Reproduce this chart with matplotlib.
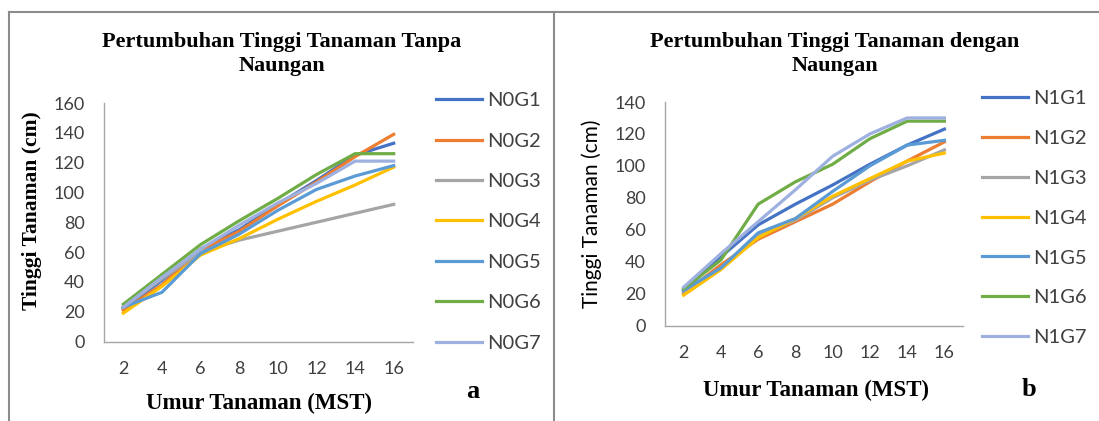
import matplotlib
matplotlib.use("Agg")
import matplotlib.pyplot as plt
import numpy as np

# umur tanaman (MST)
weeks = [2, 4, 6, 8, 10, 12, 14, 16]

# tanpa naungan (a)
N0G1 = [22, 41, 62, 75, 92, 108, 125, 133]
N0G2 = [21, 38, 61, 74, 91, 107, 124, 139]
N0G3 = [23, 42, 60, 68, 74, 80, 86, 92]
N0G4 = [19, 37, 58, 69, 82, 94, 105, 117]
N0G5 = [23, 33, 59, 72, 88, 102, 111, 118]
N0G6 = [25, 45, 65, 81, 96, 112, 126, 126]
N0G7 = [23, 43, 62, 78, 93, 106, 121, 121]

# dengan naungan (b)
N1G1 = [22, 43, 63, 76, 88, 101, 113, 123]
N1G2 = [20, 38, 54, 65, 76, 90, 103, 115]
N1G3 = [21, 36, 56, 66, 80, 91, 100, 110]
N1G4 = [19, 35, 55, 67, 81, 92, 103, 108]
N1G5 = [22, 36, 58, 67, 84, 100, 113, 116]
N1G6 = [23, 41, 76, 90, 101, 117, 128, 128]
N1G7 = [24, 45, 65, 85, 106, 120, 130, 130]

labels_a = ["N0G1", "N0G2", "N0G3", "N0G4", "N0G5", "N0G6", "N0G7"]
labels_b = ["N1G1", "N1G2", "N1G3", "N1G4", "N1G5", "N1G6", "N1G7"]
colors = ["#4472C4", "#ED7D31", "#A5A5A5", "#FFC000", "#5B9BD5", "#70AD47", "#9DB0E0"]

W, H = 1099, 421
fig = plt.figure(figsize=(W / 100, H / 100), dpi=100)

def px(x0, y0, x1, y1):
    # pixel box (top-left origin) -> figure fraction
    return [x0 / W, 1 - y1 / H, (x1 - x0) / W, (y1 - y0) / H]

serif = "Liberation Serif"
sans = "Lato"

# bingkai
frame = dict(color="#8c8c8c", lw=1.5, transform=fig.transFigure, clip_on=False)
fig.add_artist(plt.Line2D([9 / W, 1], [1 - 12 / H, 1 - 12 / H], **frame))
fig.add_artist(plt.Line2D([9 / W, 9 / W], [0, 1 - 12 / H], **frame))
fig.add_artist(plt.Line2D([554 / W, 554 / W], [0, 1 - 12 / H], **frame))


def panel(box, series, labels, ymax, leg_xy, spacing):
    ax = fig.add_axes(px(*box))
    x = np.arange(len(weeks))
    for s, lab, c in zip(series, labels, colors):
        ax.plot(x, s, color=c, lw=2.3, label=lab)
    ax.set_xlim(-0.5, len(weeks) - 0.5)
    ax.set_ylim(0, ymax)
    ax.set_yticks(np.arange(0, ymax + 1, 20))
    ax.set_xticks(x)
    ax.set_xticklabels([str(w) for w in weeks])
    for sp in ["top", "right"]:
        ax.spines[sp].set_visible(False)
    for sp in ["left", "bottom"]:
        ax.spines[sp].set_color("#a6a6a6")
        ax.spines[sp].set_linewidth(1.0)
    ax.tick_params(length=0, labelsize=13, labelcolor="#404040")
    ax.tick_params(axis="y", pad=14)
    ax.tick_params(axis="x", pad=14)
    for t in ax.get_xticklabels() + ax.get_yticklabels():
        t.set_fontfamily(sans)
    leg = ax.legend(loc="upper left", bbox_to_anchor=(leg_xy[0] / W, 1 - leg_xy[1] / H),
                    bbox_transform=fig.transFigure, frameon=False, borderpad=0,
                    borderaxespad=0, handlelength=2.3, handletextpad=0.25,
                    labelspacing=spacing, prop={"family": sans, "size": 14.5})
    for t in leg.get_texts():
        t.set_color("#404040")
    return ax


ax1 = panel((104, 103, 413, 341.5), [N0G1, N0G2, N0G3, N0G4, N0G5, N0G6, N0G7],
            labels_a, 160, (436, 92), 1.16)
ax2 = panel((665, 102, 963, 325.5), [N1G1, N1G2, N1G3, N1G4, N1G5, N1G6, N1G7],
            labels_b, 140, (982, 90), 1.13)


def ftext(x, y, s, **kw):
    fig.text(x / W, 1 - y / H, s, ha="center", va="center", **kw)


# judul
ftext(282, 42, "Pertumbuhan Tinggi Tanaman Tanpa", family=serif, weight="bold", size=16)
ftext(282, 66, "Naungan", family=serif, weight="bold", size=16)
ftext(835, 42, "Pertumbuhan Tinggi Tanaman dengan", family=serif, weight="bold", size=16)
ftext(835, 66, "Naungan", family=serif, weight="bold", size=16)

# label sumbu
ftext(259, 403, "Umur Tanaman (MST)", family=serif, weight="bold", size=16.5)
ftext(816, 390, "Umur Tanaman (MST)", family=serif, weight="bold", size=16.5)
ftext(32, 211, "Tinggi Tanaman (cm)", family=serif, weight="bold", size=15.5, rotation=90)
ftext(592, 214, "Tinggi Tanaman (cm)", family=sans, size=15, rotation=90, color="#000000")

# huruf panel
ftext(473, 392, "a", family=serif, weight="bold", size=19)
ftext(1029, 390, "b", family=serif, weight="bold", size=19)

fig.savefig("out.png", dpi=100)
